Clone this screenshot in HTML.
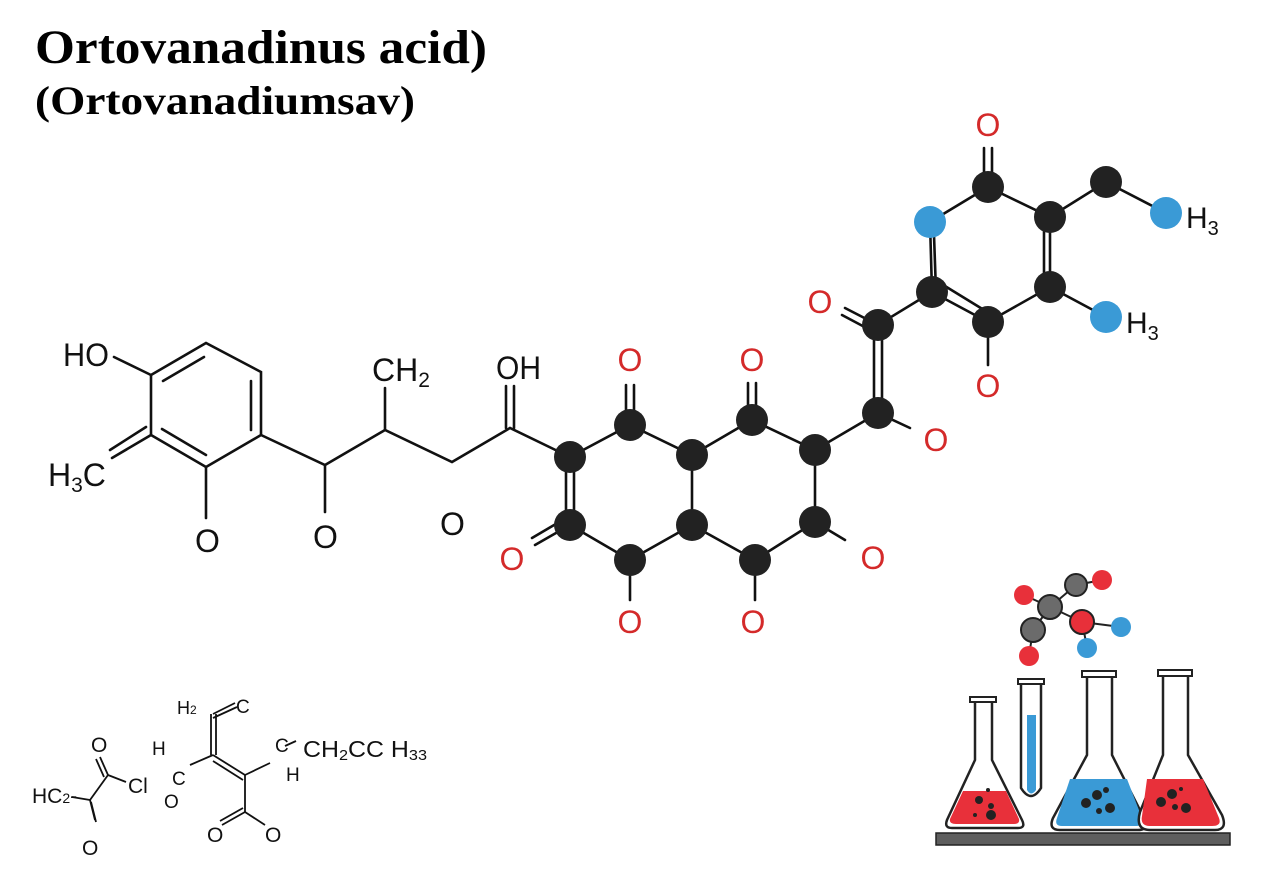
<!DOCTYPE html>
<html><head><meta charset="utf-8"><style>
html,body{margin:0;padding:0;background:#fff;}
svg{display:block;}
text{font-family:"Liberation Sans",sans-serif;}
</style></head><body>
<svg width="1280" height="896" viewBox="0 0 1280 896" xmlns="http://www.w3.org/2000/svg">
<rect width="1280" height="896" fill="#fff"/>
<text x="35" y="63" font-weight="bold" font-size="48" textLength="452" lengthAdjust="spacingAndGlyphs" style="font-family:'Liberation Serif',serif">Ortovanadinus acid)</text>
<text x="35" y="114" font-weight="bold" font-size="40" textLength="380" lengthAdjust="spacingAndGlyphs" style="font-family:'Liberation Serif',serif">(Ortovanadiumsav)</text>

<g stroke="#111" stroke-width="2.6" fill="none" stroke-linecap="round">
<polygon points="151,375 206,343 261,372 261,435 206,467 151,435"/>
<line x1="163" y1="381" x2="204" y2="357"/>
<line x1="251" y1="381" x2="251" y2="430"/>
<line x1="162" y1="429" x2="206" y2="455"/>
<line x1="114" y1="357" x2="151" y2="375"/>
<line x1="151" y1="435" x2="112" y2="458"/>
<line x1="146" y1="427" x2="110" y2="450"/>
<line x1="206" y1="467" x2="206" y2="518"/>
<polyline points="261,435 325,465 385,430 452,462 510,428 570,457"/>
<line x1="325" y1="465" x2="325" y2="512"/>
<line x1="385" y1="430" x2="385" y2="388"/>
<line x1="506" y1="428" x2="506" y2="386"/>
<line x1="514" y1="428" x2="514" y2="386"/>
<polyline points="570,457 630,425 692,455 752,420 815,450 815,522 755,560 692,525 630,560 570,525"/>
<line x1="692" y1="455" x2="692" y2="525"/>
<line x1="566" y1="457" x2="566" y2="525"/><line x1="574" y1="457" x2="574" y2="525"/>
<line x1="626" y1="425" x2="626" y2="385"/><line x1="634" y1="425" x2="634" y2="385"/>
<line x1="748" y1="420" x2="748" y2="383"/><line x1="756" y1="420" x2="756" y2="383"/>
<line x1="570" y1="525" x2="535" y2="545"/><line x1="566" y1="518" x2="532" y2="538"/>
<line x1="630" y1="560" x2="630" y2="600"/>
<line x1="755" y1="560" x2="755" y2="600"/>
<line x1="815" y1="522" x2="845" y2="540"/>
<line x1="815" y1="450" x2="878" y2="413"/>
<line x1="874" y1="413" x2="874" y2="325"/><line x1="882" y1="413" x2="882" y2="325"/>
<line x1="878" y1="413" x2="910" y2="428"/>
<line x1="878" y1="325" x2="932" y2="292"/>
<line x1="878" y1="325" x2="845" y2="308"/><line x1="874" y1="332" x2="842" y2="315"/>
<polygon points="988,187 1050,217 1050,287 988,322 932,292 930,222"/>
<line x1="936" y1="292" x2="934" y2="235"/>
<line x1="1044" y1="222" x2="1044" y2="282"/>
<line x1="940" y1="283" x2="984" y2="310"/>
<line x1="984" y1="187" x2="984" y2="148"/><line x1="992" y1="187" x2="992" y2="148"/>
<line x1="988" y1="322" x2="988" y2="365"/>
<polyline points="1050,217 1106,182 1166,213"/>
<line x1="1050" y1="287" x2="1106" y2="317"/>
</g>
<g fill="#222">
<circle cx="570" cy="457" r="16"/><circle cx="630" cy="425" r="16"/><circle cx="692" cy="455" r="16"/>
<circle cx="692" cy="525" r="16"/><circle cx="630" cy="560" r="16"/><circle cx="570" cy="525" r="16"/>
<circle cx="752" cy="420" r="16"/><circle cx="815" cy="450" r="16"/><circle cx="815" cy="522" r="16"/><circle cx="755" cy="560" r="16"/>
<circle cx="878" cy="413" r="16"/><circle cx="878" cy="325" r="16"/>
<circle cx="988" cy="187" r="16"/><circle cx="1050" cy="217" r="16"/><circle cx="1050" cy="287" r="16"/>
<circle cx="988" cy="322" r="16"/><circle cx="932" cy="292" r="16"/><circle cx="1106" cy="182" r="16"/>
</g>
<g fill="#3a9ad6">
<circle cx="930" cy="222" r="16"/><circle cx="1166" cy="213" r="16"/><circle cx="1106" cy="317" r="16"/>
</g>
<g font-size="32" fill="#111">
<text x="63" y="366" textLength="46" lengthAdjust="spacingAndGlyphs">HO</text>
<text x="48" y="486">H<tspan font-size="21" dy="6">3</tspan><tspan dy="-6">C</tspan></text>
<text x="195" y="552">O</text>
<text x="313" y="548">O</text>
<text x="440" y="535">O</text>
<text x="372" y="381">CH<tspan font-size="21" dy="6">2</tspan></text>
<text x="496" y="379" textLength="45" lengthAdjust="spacingAndGlyphs">OH</text>
<text x="1186" y="228" font-size="30">H<tspan font-size="20" dy="7">3</tspan></text>
<text x="1126" y="333" font-size="30">H<tspan font-size="20" dy="7">3</tspan></text>
</g>
<g font-size="32" fill="#d42a2a" text-anchor="middle">
<text x="988" y="136">O</text>
<text x="820" y="313">O</text>
<text x="988" y="397">O</text>
<text x="936" y="451">O</text>
<text x="630" y="371">O</text>
<text x="752" y="371">O</text>
<text x="512" y="570">O</text>
<text x="630" y="633">O</text>
<text x="753" y="633">O</text>
<text x="873" y="569">O</text>
</g>

<g stroke="#111" stroke-width="1.8" fill="none">
<line x1="72" y1="797" x2="90" y2="800"/>
<line x1="90" y1="800" x2="108" y2="775"/>
<line x1="90" y1="800" x2="95" y2="820"/>
<line x1="91" y1="802" x2="96" y2="822"/>
<line x1="108" y1="775" x2="100" y2="757"/><line x1="104" y1="777" x2="96" y2="759"/>
<line x1="108" y1="775" x2="126" y2="782"/>
<line x1="190" y1="765" x2="213" y2="755"/>
<line x1="211" y1="755" x2="211" y2="714"/><line x1="216" y1="755" x2="216" y2="714"/>
<line x1="213" y1="714" x2="235" y2="703"/><line x1="213" y1="718" x2="237" y2="707"/>
<line x1="213" y1="755" x2="245" y2="775"/><line x1="213" y1="761" x2="243" y2="780"/>
<line x1="245" y1="775" x2="270" y2="763"/>
<line x1="245" y1="775" x2="245" y2="812"/>
<line x1="245" y1="812" x2="222" y2="825"/><line x1="243" y1="808" x2="220" y2="821"/>
<line x1="245" y1="812" x2="265" y2="825"/>
<line x1="285" y1="746" x2="296" y2="741"/>
</g>
<g font-size="21" fill="#111">
<text x="32" y="803">HC<tspan font-size="14">2</tspan>-</text>
<text x="91" y="752">O</text>
<text x="82" y="855">O</text>
<text x="128" y="793">Cl</text>
<text x="152" y="755" font-size="19">H</text>
<text x="164" y="808" font-size="19">O</text>
<text x="172" y="785" font-size="19">C</text>
<text x="177" y="714" font-size="18">H<tspan font-size="12">2</tspan></text>
<text x="236" y="713" font-size="19">C</text>
<text x="207" y="842">O</text>
<text x="265" y="842">O</text>
<text x="275" y="752" font-size="19">C</text>
<text x="286" y="781" font-size="19">H</text>
<text x="303" y="757" font-size="23" textLength="124" lengthAdjust="spacingAndGlyphs">CH<tspan font-size="15" dy="3">2</tspan><tspan dy="-3">CC H</tspan><tspan font-size="15" dy="3">33</tspan></text>
</g>

<g stroke="#222" stroke-width="2">
<line x1="1050" y1="607" x2="1024" y2="595"/><line x1="1050" y1="607" x2="1076" y2="585"/>
<line x1="1076" y1="585" x2="1102" y2="580"/><line x1="1050" y1="607" x2="1082" y2="622"/>
<line x1="1050" y1="607" x2="1033" y2="630"/><line x1="1033" y1="630" x2="1029" y2="656"/>
<line x1="1082" y1="622" x2="1121" y2="627"/><line x1="1082" y1="622" x2="1087" y2="647"/>
</g>
<circle cx="1024" cy="595" r="10" fill="#e8303a"/>
<circle cx="1102" cy="580" r="10" fill="#e8303a"/>
<circle cx="1029" cy="656" r="10" fill="#e8303a"/>
<circle cx="1121" cy="627" r="10" fill="#3a9ad6"/>
<circle cx="1087" cy="648" r="10" fill="#3a9ad6"/>
<circle cx="1050" cy="607" r="12" fill="#6b6b6b" stroke="#222" stroke-width="2"/>
<circle cx="1076" cy="585" r="11" fill="#6b6b6b" stroke="#222" stroke-width="2"/>
<circle cx="1033" cy="630" r="12" fill="#6b6b6b" stroke="#222" stroke-width="2"/>
<circle cx="1082" cy="622" r="12" fill="#e8303a" stroke="#222" stroke-width="2"/>

<rect x="936" y="833" width="294" height="12" fill="#5e5e5e" stroke="#222" stroke-width="1.5"/>
<path d="M975,700 V760 L947,820 Q944,828 952,828 H1018 Q1026,828 1022,820 L992,760 V700 Z" fill="#fff" stroke="#222" stroke-width="2.5"/>
<path d="M950,819 L963,791 H1006 L1019,819 Q1020,824 1014,824 H956 Q949,824 950,819 Z" fill="#e8303a"/>
<rect x="970" y="697" width="26" height="5" fill="#fff" stroke="#222" stroke-width="2"/>
<g fill="#222"><circle cx="979" cy="800" r="4"/><circle cx="991" cy="806" r="3"/><circle cx="991" cy="815" r="5"/><circle cx="975" cy="815" r="2"/><circle cx="988" cy="790" r="2"/></g>
<path d="M1021,682 V788 Q1031,804 1041,788 V682 Z" fill="#fff" stroke="#222" stroke-width="2.5"/>
<rect x="1018" y="679" width="26" height="5" fill="#fff" stroke="#222" stroke-width="2"/>
<path d="M1027,715 H1036 V790 Q1031,797 1027,790 Z" fill="#3a9ad6"/>
<path d="M1087,675 V755 L1053,818 Q1048,830 1060,830 H1138 Q1150,830 1144,818 L1112,755 V675 Z" fill="#fff" stroke="#222" stroke-width="2.5"/>
<path d="M1070,779 H1127 L1142,818 Q1144,826 1136,826 H1062 Q1054,826 1057,818 Z" fill="#3a9ad6"/>
<rect x="1082" y="671" width="34" height="6" fill="#fff" stroke="#222" stroke-width="2"/>
<g fill="#222"><circle cx="1086" cy="803" r="5"/><circle cx="1097" cy="795" r="5"/><circle cx="1110" cy="808" r="5"/><circle cx="1099" cy="811" r="3"/><circle cx="1106" cy="790" r="3"/></g>
<path d="M1163,673 V755 L1140,812 Q1135,830 1150,830 H1215 Q1228,830 1222,815 L1188,755 V673 Z" fill="#fff" stroke="#222" stroke-width="2.5"/>
<path d="M1147,779 H1203 L1219,818 Q1222,826 1212,826 H1150 Q1140,826 1142,816 Z" fill="#e8303a"/>
<rect x="1158" y="670" width="34" height="6" fill="#fff" stroke="#222" stroke-width="2"/>
<g fill="#222"><circle cx="1161" cy="802" r="5"/><circle cx="1172" cy="794" r="5"/><circle cx="1186" cy="808" r="5"/><circle cx="1175" cy="807" r="3"/><circle cx="1181" cy="789" r="2"/></g>
</svg>
</body></html>
